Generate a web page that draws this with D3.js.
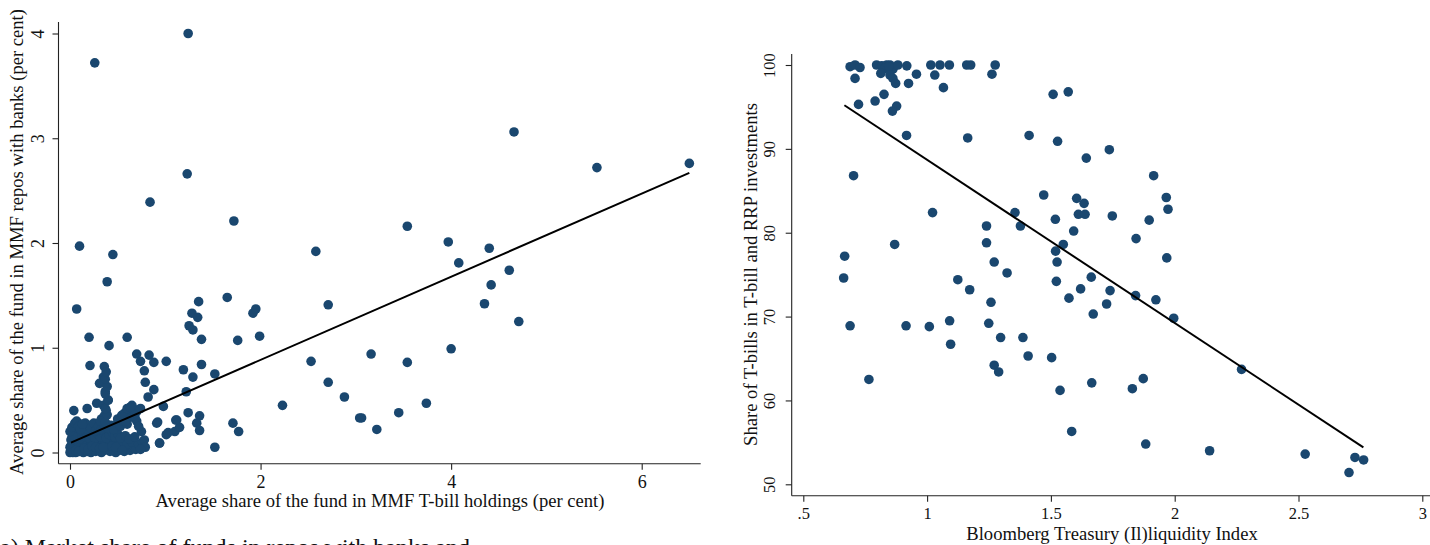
<!DOCTYPE html>
<html>
<head>
<meta charset="utf-8">
<script src="https://cdn.jsdelivr.net/npm/d3@7"></script>
<style>
  html, body { margin: 0; padding: 0; background: #fff; }
  svg { display: block; }
  text { font-family: "Liberation Serif", "DejaVu Serif", serif; fill: #111; }
</style>
</head>
<body>
<svg id="chart" width="1430" height="545"></svg>
<script>
// ---------- Panel A data: T-bill share (x) vs repo share (y), per cent ----------
const leftX = [
  // outliers / mid range
  1.24,0.26,1.23,0.84,1.72,0.10,0.45,2.58,0.39,1.65,0.07,1.35,1.28,1.34,1.25,1.29,1.38,1.92,1.95,1.99,1.76,2.71,
  0.20,0.41,0.60,0.21,0.36,0.70,0.83,0.74,0.88,1.01,1.19,1.38,1.52,1.29,0.78,0.79,0.88,0.82,1.22,0.35,0.31,0.37,0.40,0.28,
  0.98,0.04,0.18,1.24,1.36,0.91,1.12,1.33,1.36,1.71,1.77,1.52,1.01,0.94,1.10,1.15,0.92,1.03,0.94,1.11,0.63,0.68,
  2.53,2.71,2.88,3.04,2.23,
  4.66,5.53,6.50,3.54,3.97,4.40,4.08,4.61,4.42,4.35,4.71,3.16,3.54,4.00,3.74,3.45,3.22,3.06,
  // dense cluster near origin
  0.00,0.02,0.04,0.06,0.08,0.10,0.12,0.14,0.16,0.18,0.20,0.22,0.24,0.27,0.30,0.33,0.36,0.39,0.42,0.45,0.48,0.51,0.54,0.57,0.60,0.63,0.66,0.69,
  0.01,0.03,0.05,0.07,0.09,0.11,0.13,0.15,0.17,0.19,0.21,0.23,0.25,0.28,0.31,0.34,0.37,0.40,0.43,0.46,0.49,0.52,0.56,0.60,0.65,0.72,0.76,
  0.02,0.04,0.06,0.08,0.10,0.12,0.14,0.16,0.18,0.20,0.22,0.24,0.26,0.29,0.32,0.35,0.38,0.41,0.44,0.47,0.50,0.53,0.58,0.62,0.68,
  0.05,0.08,0.10,0.12,0.14,0.16,0.18,0.20,0.22,0.25,0.27,0.30,0.33,0.36,0.40,0.43,0.46,0.50,0.53,0.56,0.60,
  0.50,0.54,0.58,0.62,0.66,0.70,0.74,0.64,0.58,0.68,
  0.33,0.36,0.38,0.35,0.32,0.37,0.39,0.37,0.40,0.37,0.39,0.37,0.38,
  0.55,0.60,0.65,0.70,0.75,0.78,0.72,0.79,0.74,0.63,0.68,
  0.00,0.01,0.03,0.00,0.02,0.05,0.07,0.09,0.11,0.13,0.03,0.06,0.09,0.15,0.19,0.23,0.27,0.31,0.35,0.44,0.48,0.55
];
const leftY = [
  4.00,3.72,2.66,2.39,2.21,1.97,1.89,1.92,1.63,1.48,1.37,1.44,1.33,1.29,1.21,1.17,1.08,1.33,1.37,1.11,1.07,1.41,
  1.10,1.02,1.10,0.83,0.82,0.94,0.93,0.87,0.86,0.87,0.79,0.84,0.75,0.72,0.78,0.67,0.60,0.53,0.58,0.72,0.66,0.58,0.50,0.47,
  0.44,0.40,0.42,0.38,0.35,0.28,0.31,0.28,0.21,0.28,0.20,0.05,0.17,0.09,0.20,0.24,0.29,0.19,0.09,0.31,0.43,0.33,
  0.87,0.67,0.53,0.33,0.45,
  3.06,2.72,2.76,2.16,2.01,1.95,1.81,1.74,1.60,1.42,1.25,0.94,0.86,0.99,0.47,0.38,0.22,0.33,
  0.00,0.01,0.03,0.00,0.02,0.01,0.03,0.00,0.02,0.01,0.04,0.00,0.02,0.01,0.03,0.00,0.02,0.04,0.01,0.03,0.00,0.02,0.04,0.01,0.03,0.02,0.05,0.03,
  0.06,0.09,0.07,0.11,0.08,0.06,0.10,0.07,0.12,0.09,0.06,0.11,0.08,0.10,0.07,0.12,0.09,0.06,0.10,0.08,0.11,0.07,0.10,0.08,0.10,0.08,0.10,
  0.14,0.18,0.15,0.19,0.13,0.17,0.20,0.15,0.18,0.14,0.19,0.16,0.13,0.18,0.15,0.19,0.14,0.17,0.20,0.15,0.18,0.14,0.16,0.13,0.15,
  0.22,0.25,0.21,0.27,0.24,0.28,0.22,0.26,0.23,0.28,0.21,0.25,0.22,0.27,0.23,0.26,0.22,0.28,0.25,0.30,0.27,
  0.32,0.35,0.38,0.40,0.42,0.39,0.42,0.34,0.30,0.36,
  0.32,0.35,0.40,0.45,0.30,0.29,0.36,0.42,0.50,0.56,0.63,0.70,0.77,
  0.36,0.42,0.45,0.30,0.20,0.12,0.25,0.05,0.03,0.43,0.33,
  0.05,0.12,0.16,0.20,0.24,0.28,0.30,0.25,0.22,0.27,0.00,0.02,0.01,0.04,0.03,0.06,0.05,0.04,0.05,0.06,0.05,0.02
];
const leftFitX = [0.01, 6.5];          // fitted line end points (x)
const leftFitY = [0.094, 2.67];        // fitted line end points (y)
const leftXTicks = [0, 2, 4, 6];
const leftYTicks = [0, 1, 2, 3, 4];

// ---------- Panel B data: Bloomberg liquidity index (x) vs T-bill share (y) ----------
const rightX = [
  0.689,0.709,0.729,0.796,0.817,0.837,0.850,0.862,0.882,0.918,1.015,1.052,1.090,1.160,1.176,1.275,0.830,0.845,
  0.709,0.813,0.850,0.862,0.873,0.925,0.957,1.031,1.066,1.262,
  0.826,0.790,0.723,0.877,0.860,0.917,1.164,1.412,1.527,1.509,1.570,
  0.703,1.022,1.471,1.355,1.377,1.240,1.518,1.592,1.550,0.869,1.240,1.519,1.525,0.667,1.271,1.323,0.663,1.124,1.522,
  1.736,1.643,1.915,1.604,1.634,1.966,1.973,1.611,1.638,1.748,1.897,1.844,1.968,1.663,1.620,1.739,
  1.172,1.258,0.689,0.915,1.009,1.091,1.249,1.095,1.297,1.387,1.408,1.503,1.271,1.289,0.765,1.537,1.584,1.573,
  1.725,1.671,1.842,1.924,1.996,2.270,1.665,1.829,1.873,1.883,2.141,2.527,2.728,2.763,2.704
];
const rightY = [
  99.8,100.0,99.7,100.0,99.9,100.0,100.0,99.5,100.0,99.9,100.0,100.0,100.0,100.0,100.0,100.0,99.6,99.8,
  98.4,99.0,98.8,98.4,97.8,97.8,98.9,98.8,97.3,98.9,
  96.5,95.7,95.3,95.1,94.5,91.6,91.3,91.6,90.9,96.5,96.8,
  86.8,82.4,84.5,82.4,80.8,80.8,81.6,80.2,78.6,78.6,78.8,77.8,76.5,77.2,76.5,75.2,74.6,74.4,74.2,
  89.9,88.9,86.8,84.1,83.5,84.2,82.8,82.2,82.2,82.0,81.5,79.3,77.0,74.7,73.3,73.1,
  73.2,71.7,68.9,68.9,68.8,69.5,69.2,66.7,67.5,67.5,65.3,65.1,64.2,63.4,62.5,61.2,56.3,72.2,
  71.5,70.3,72.5,72.0,69.8,63.7,62.1,61.4,62.6,54.8,54.0,53.6,53.2,52.9,51.4
];
const rightFitX = [0.666, 2.762];
const rightFitY = [95.2, 54.4];
const rightXTicks = [0.5, 1, 1.5, 2, 2.5, 3];
const rightYTicks = [50, 60, 70, 80, 90, 100];

// ---------- Text ----------
const leftXTitle = "Average share of the fund in MMF T-bill holdings (per cent)";
const leftYTitle = "Average share of the fund in MMF repos with banks (per cent)";
const rightXTitle = "Bloomberg Treasury (Il)liquidity Index";
const rightYTitle = "Share of T-bills in T-bill and RRP investments";
const captionText = "a)  Market share of funds in repos with banks and";

// ---------- Drawing ----------
const svg = d3.select("#chart");
const DOT = "#1a476f";
const AX = "#222";

function panel(cfg) {
  const g = svg.append("g");
  const x = d3.scaleLinear().domain(cfg.xDom).range(cfg.xRange);
  const y = d3.scaleLinear().domain(cfg.yDom).range(cfg.yRange);

  // axis lines (plot region extents)
  g.append("line").attr("x1", cfg.box.left).attr("x2", cfg.box.left)
    .attr("y1", cfg.box.top).attr("y2", cfg.box.bottom)
    .attr("stroke", AX).attr("stroke-width", 1.1);
  g.append("line").attr("x1", cfg.box.left).attr("x2", cfg.box.right)
    .attr("y1", cfg.box.bottom).attr("y2", cfg.box.bottom)
    .attr("stroke", AX).attr("stroke-width", 1.1);

  // x axis
  const xa = g.append("g").attr("transform", `translate(0,${cfg.box.bottom})`)
    .call(d3.axisBottom(x).tickValues(cfg.xTicks).tickSize(6).tickPadding(4)
      .tickFormat(cfg.xFmt));
  xa.select(".domain").remove();
  xa.selectAll(".tick line").attr("stroke", AX).attr("stroke-width", 1.1);
  xa.selectAll(".tick text").attr("font-size", cfg.tickFont).attr("fill", "#111")
    .attr("font-family", "Liberation Serif").attr("dy", "0.8em");

  // y axis (rotated labels)
  const ya = g.append("g").attr("transform", `translate(${cfg.box.left},0)`)
    .call(d3.axisLeft(y).tickValues(cfg.yTicks).tickSize(6).tickFormat(d3.format("d")));
  ya.select(".domain").remove();
  ya.selectAll(".tick line").attr("stroke", AX).attr("stroke-width", 1.1);
  ya.selectAll(".tick text")
    .attr("font-size", cfg.tickFont).attr("fill", "#111").attr("font-family", "Liberation Serif")
    .attr("x", null).attr("dy", null)
    .attr("text-anchor", "middle")
    .attr("transform", `translate(${cfg.yLabelBase},0) rotate(-90)`);

  // points
  g.append("g").selectAll("circle")
    .data(d3.range(cfg.xs.length))
    .join("circle")
    .attr("cx", i => x(cfg.xs[i]))
    .attr("cy", i => y(cfg.ys[i]))
    .attr("r", 4.8)
    .attr("fill", DOT);

  // fitted line
  g.append("line")
    .attr("x1", x(cfg.fitX[0])).attr("y1", y(cfg.fitY[0]))
    .attr("x2", x(cfg.fitX[1])).attr("y2", y(cfg.fitY[1]))
    .attr("stroke", "#000").attr("stroke-width", 2);

  // titles
  g.append("text").attr("x", cfg.xTitlePos[0]).attr("y", cfg.xTitlePos[1])
    .attr("text-anchor", "middle").attr("font-size", 18.6).text(cfg.xTitle);
  g.append("text")
    .attr("transform", `translate(${cfg.yTitlePos[0]},${cfg.yTitlePos[1]}) rotate(-90)`)
    .attr("text-anchor", "middle").attr("font-size", 18.6).text(cfg.yTitle);
}

panel({
  xs: leftX, ys: leftY, fitX: leftFitX, fitY: leftFitY,
  xDom: [0, 6], xRange: [70, 641.7],
  yDom: [0, 4], yRange: [452.5, 33.5],
  box: { left: 58.5, right: 700.7, top: 22, bottom: 463.7 },
  xTicks: leftXTicks, yTicks: leftYTicks, xFmt: d3.format("d"),
  tickFont: 18, yLabelBase: -15,
  xTitle: leftXTitle, xTitlePos: [380, 507],
  yTitle: leftYTitle, yTitlePos: [23, 242]
});

panel({
  xs: rightX, ys: rightY, fitX: rightFitX, fitY: rightFitY,
  xDom: [0.5, 3], xRange: [803.3, 1422.3],
  yDom: [50, 100], yRange: [484.3, 65],
  box: { left: 791.7, right: 1430, top: 54, bottom: 495.7 },
  xTicks: rightXTicks, yTicks: rightYTicks,
  xFmt: d => (d % 1 === 0 ? String(d) : String(d).replace(/^0/, "")),
  tickFont: 16.5, yLabelBase: -16.5,
  xTitle: rightXTitle, xTitlePos: [1112, 540],
  yTitle: rightYTitle, yTitlePos: [757, 274.5]
});

svg.append("text").attr("x", 0).attr("y", 555)
  .attr("font-size", 24).attr("font-family", "Liberation Serif")
  .text(captionText);
</script>
</body>
</html>
